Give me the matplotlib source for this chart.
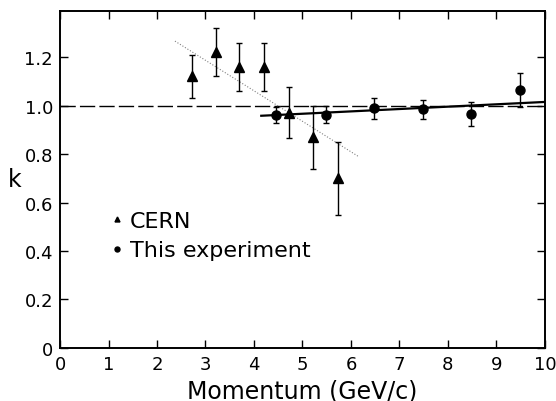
import numpy as np
import matplotlib.pyplot as plt

plt.rcParams['font.family'] = ['DejaVu Sans']

# CERN points (triangles)
cern_p = [2.73, 3.22, 3.70, 4.20, 4.73, 5.22, 5.74]
cern_k = [1.12, 1.22, 1.16, 1.16, 0.97, 0.87, 0.70]
cern_err = [0.09, 0.10, 0.10, 0.10, 0.105, 0.13, 0.15]

# this experiment (circles)
exp_p = [4.45, 5.48, 6.47, 7.49, 8.48, 9.49]
exp_k = [0.96, 0.963, 0.988, 0.985, 0.965, 1.063]
exp_err = [0.033, 0.035, 0.045, 0.04, 0.05, 0.07]

# fitted lines
fit_p = [4.15, 10.0]
fit_k = [0.958, 1.015]
cern_fit_p = [2.37, 6.17]
cern_fit_k = [1.266, 0.788]

fig = plt.figure(figsize=(5.56, 4.02), dpi=100)
ax = fig.add_axes([0.108, 0.132, 0.872, 0.838])

ax.axhline(1.0, color='black', lw=1.0, dashes=(11, 3))
ax.plot(cern_fit_p, cern_fit_k, color='gray', lw=0.8, ls=':')
ax.plot(fit_p, fit_k, color='black', lw=1.6)

ax.errorbar(cern_p, cern_k, yerr=cern_err, fmt='^', color='black', ms=6.5,
            elinewidth=1.0, capsize=2.3, capthick=1.0, label='CERN')
ax.errorbar(exp_p, exp_k, yerr=exp_err, fmt='o', color='black', ms=6.5,
            elinewidth=1.0, capsize=2.3, capthick=1.0, label='This experiment')

ax.set_xlim(0, 10)
ax.set_ylim(0, 1.39)
ax.set_xticks(range(0, 11))
yt = [0, 0.2, 0.4, 0.6, 0.8, 1.0, 1.2]
ax.set_yticks(yt)
ax.set_yticklabels(['0', '0.2', '0.4', '0.6', '0.8', '1.0', '1.2'])
ax.tick_params(direction='in', length=6, width=1.0, labelsize=13,
               top=True, right=True, pad=5)
for s in ax.spines.values():
    s.set_linewidth(1.4)

ax.set_xlabel('Momentum (GeV/c)', fontsize=17, labelpad=4)
ax.set_ylabel('k', fontsize=17, rotation=0, labelpad=7, va='center')

h, l = ax.get_legend_handles_labels()
h = [x[0] for x in h]
ax.legend(h, l, loc='center left', bbox_to_anchor=(0.08, 0.333), frameon=False,
          fontsize=16, markerscale=0.55, handlelength=0.6, handletextpad=0.3,
          labelspacing=0.42, borderpad=0)

fig.savefig('out.png', dpi=100)
